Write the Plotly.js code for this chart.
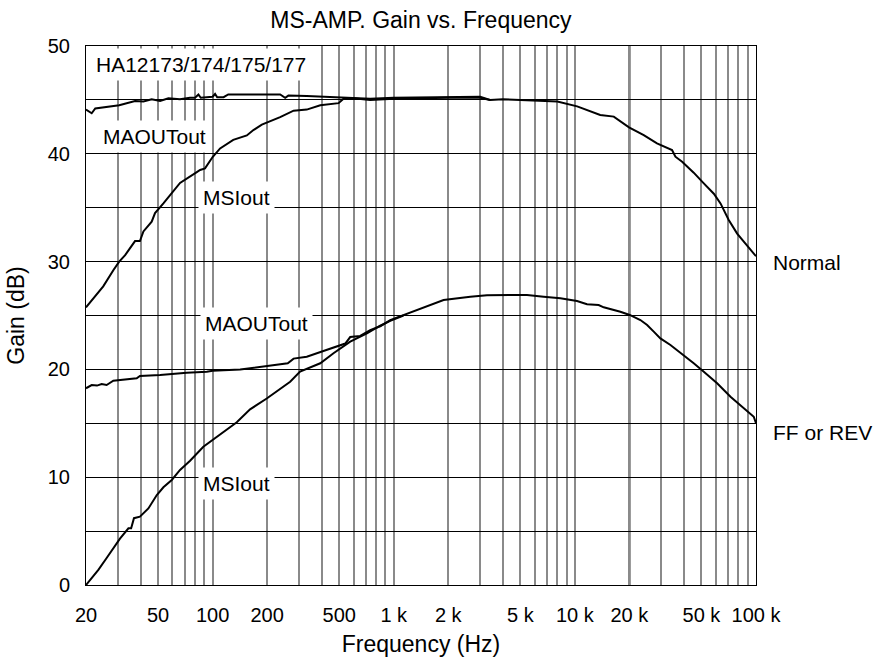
<!DOCTYPE html>
<html>
<head>
<meta charset="utf-8">
<script src="https://cdn.plot.ly/plotly-3.0.1.min.js"></script>
<style>html,body{margin:0;padding:0;background:#fff;}#chart{width:877px;height:660px;}</style>
</head>
<body>
<div id="chart"></div>
<script>
// ---- data ----
const normalMaoutFreq = [20, 21.5, 22.5, 28.3, 30.5, 37.3, 41.5, 46.1, 51.3, 57, 66, 75, 80, 83.5, 86, 100, 103.2, 106, 115, 122, 236, 251.6, 262, 331, 500, 741, 1000, 2000, 3000, 3400, 4000, 5000, 7000, 8000, 10300, 13800, 16400, 19900, 24000, 28400, 34400, 35900, 39100, 45300, 51500, 58500, 63700, 69300, 70700, 78700, 89400, 100000];
const normalMaoutGain = [44.1, 43.76, 44.2, 44.4, 44.5, 44.9, 44.85, 45.05, 44.9, 45.15, 45.05, 45.2, 45.2, 45.5, 45.2, 45.3, 45.55, 45.25, 45.25, 45.5, 45.5, 45.2, 45.4, 45.36, 45.2, 45.1, 45.2, 45.3, 45.3, 45.0, 45.05, 45.0, 44.9, 44.85, 44.4, 43.6, 43.45, 42.46, 41.74, 40.97, 40.35, 39.73, 39.27, 38.25, 37.26, 36.3, 35.4, 34.2, 33.86, 32.6, 31.5, 30.5];

const normalMsiFreq = [20, 21.9, 24.9, 28.3, 30.5, 32.9, 37.3, 39.7, 41.5, 46.1, 48.1, 53.5, 66.1, 81.8, 85.3, 90.8, 96.8, 100, 110, 130, 154.5, 168, 187, 208, 236, 280, 331, 393, 496, 528, 600, 741, 1000, 2000, 3000, 3400];
const normalMsiGain = [25.75, 26.6, 27.7, 29.2, 30.0, 30.6, 31.9, 31.9, 32.8, 33.7, 34.5, 35.4, 37.3, 38.3, 38.5, 38.65, 39.4, 39.7, 40.5, 41.3, 41.7, 42.2, 42.7, 43.0, 43.4, 44.0, 44.1, 44.5, 44.7, 45.1, 45.15, 45.0, 45.1, 45.2, 45.2, 45.0];

const ffMaoutFreq = [20, 21.5, 23, 24.4, 26, 28.3, 38.1, 39.7, 51.3, 72, 92.9, 100, 142, 183, 195, 260, 280, 331, 409, 506, 540, 575, 653, 741, 842, 956, 1132, 1400, 1884, 2646, 3272, 4400, 5444, 6724, 8314, 10280, 11670, 13530, 14430, 17830, 20080, 23000, 25060, 27250, 29660, 33700, 39900, 45300, 51500, 61000, 72300, 82100, 97200, 100000];
const ffMaoutGain = [18.25, 18.55, 18.5, 18.65, 18.55, 18.95, 19.17, 19.39, 19.48, 19.7, 19.79, 19.88, 20.0, 20.25, 20.3, 20.56, 21.0, 21.18, 21.7, 22.26, 22.4, 23.0, 23.1, 23.65, 24.0, 24.58, 25.05, 25.67, 26.44, 26.74, 26.87, 26.9, 26.9, 26.74, 26.6, 26.35, 26.04, 25.97, 25.76, 25.35, 25.05, 24.58, 24.12, 23.5, 22.88, 22.26, 21.34, 20.57, 19.79, 18.71, 17.47, 16.7, 15.61, 15.0];

const ffMsiFreq = [20, 23.4, 26.0, 30.8, 34.3, 35.5, 36.8, 39.7, 44.2, 49.2, 53.5, 59.5, 66.1, 75.1, 88.9, 100, 119.7, 136, 161, 199, 268, 304, 393, 465, 575, 711, 842, 956, 1132];
const ffMsiGain = [0, 1.4, 2.5, 4.3, 5.26, 5.26, 6.2, 6.34, 7.1, 8.35, 9.06, 9.74, 10.67, 11.53, 12.83, 13.45, 14.38, 15.1, 16.3, 17.3, 18.86, 19.8, 20.57, 21.5, 22.57, 23.35, 24.05, 24.5, 25.0];

const xGridVals = [20,30,40,50,60,70,80,90,100,200,300,400,500,600,700,800,900,1000,2000,3000,4000,5000,6000,7000,8000,9000,10000,20000,30000,40000,50000,60000,70000,80000,90000,100000];
const xLabelMap = {20:'20',50:'50',100:'100',200:'200',500:'500',1000:'1 k',2000:'2 k',5000:'5 k',10000:'10 k',20000:'20 k',50000:'50 k',100000:'100 k'};
const yTickVals = [0,5,10,15,20,25,30,35,40,45,50];
const yTickText = ['0','','10','','20','','30','','40','','50'];

// ---- chart ----
const FONT = 'Liberation Sans, Arial, Helvetica, sans-serif';
const lineStyle = {color: '#000', width: 2};
const traces = [
  {x: normalMsiFreq, y: normalMsiGain, mode: 'lines', line: lineStyle, hoverinfo: 'skip'},
  {x: normalMaoutFreq, y: normalMaoutGain, mode: 'lines', line: lineStyle, hoverinfo: 'skip'},
  {x: ffMsiFreq, y: ffMsiGain, mode: 'lines', line: lineStyle, hoverinfo: 'skip'},
  {x: ffMaoutFreq, y: ffMaoutGain, mode: 'lines', line: lineStyle, hoverinfo: 'skip'}
];

function label(text, x, y, xanchor, bg) {
  return {text: text, xref: 'paper', yref: 'paper', x: x, y: y, xanchor: xanchor, yanchor: 'middle',
    showarrow: false, font: {family: FONT, size: 21, color: '#000'},
    bgcolor: bg ? '#fff' : 'rgba(0,0,0,0)', borderpad: 4};
}

const layout = {
  width: 877, height: 660,
  margin: {l: 86, r: 121, t: 46, b: 75},
  paper_bgcolor: '#fff', plot_bgcolor: '#fff',
  showlegend: false,
  font: {family: FONT, color: '#000'},
  title: {text: 'MS-AMP. Gain vs. Frequency', font: {family: FONT, size: 23, color: '#000'},
    x: 0.48, xanchor: 'center', y: 0.97, yanchor: 'middle', yref: 'container'},
  xaxis: {
    type: 'log', range: [Math.log10(20), 5],
    tickvals: xGridVals, ticktext: xGridVals.map(v => xLabelMap[v] || ''),
    tickfont: {family: FONT, size: 20, color: '#000'},
    ticks: 'outside', ticklen: 12, tickcolor: 'rgba(0,0,0,0)',
    showgrid: true, gridcolor: '#8a8a8a', gridwidth: 2,
    showline: true, linecolor: '#000', linewidth: 1, mirror: true,
    zeroline: false,
    title: {text: 'Frequency (Hz)', font: {family: FONT, size: 23, color: '#000'}, standoff: 10}
  },
  yaxis: {
    range: [0, 50],
    tickvals: yTickVals, ticktext: yTickText,
    tickfont: {family: FONT, size: 20, color: '#000'},
    ticks: 'outside', ticklen: 11, tickcolor: 'rgba(0,0,0,0)',
    showgrid: true, gridcolor: '#000', gridwidth: 1,
    showline: true, linecolor: '#000', linewidth: 1, mirror: true,
    zeroline: false,
    title: {text: 'Gain (dB)', font: {family: FONT, size: 23, color: '#000'}, standoff: 16}
  },
  shapes: [
    {type: 'line', xref: 'x', yref: 'paper', x0: 20000, x1: 20000, y0: 0, y1: 1, line: {color: '#000', width: 2}, layer: 'below'}
  ],
  annotations: [
    label('HA12173/174/175/177', 0.008, 0.965, 'left', true),
    label('MAOUTout', 0.018, 0.833, 'left', true),
    label('MSIout', 0.2246, 0.718, 'center', true),
    label('MAOUTout', 0.2545, 0.486, 'center', true),
    label('MSIout', 0.2246, 0.189, 'center', true),
    label('Normal', 1.018, 0.599, 'left', false),
    label('FF or REV', 1.018, 0.2826, 'left', false)
  ]
};

Plotly.newPlot('chart', traces, layout, {staticPlot: true, displayModeBar: false});
</script>
</body>
</html>
